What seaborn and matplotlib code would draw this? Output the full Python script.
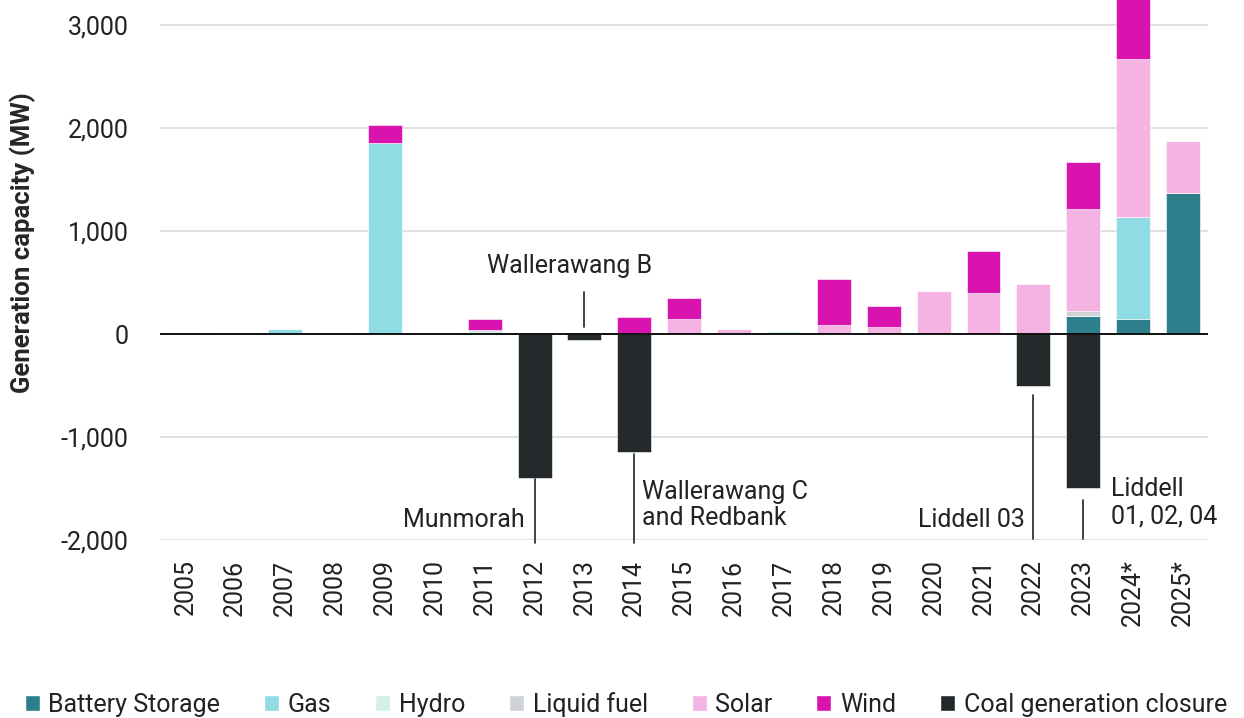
import numpy as np
import pandas as pd
import matplotlib
matplotlib.use('Agg')
import matplotlib.pyplot as plt
from matplotlib.patches import Patch
import seaborn as sns

years = ['2005', '2006', '2007', '2008', '2009', '2010', '2011', '2012', '2013', '2014',
         '2015', '2016', '2017', '2018', '2019', '2020', '2021', '2022', '2023', '2024*', '2025*']

battery = [0, 0, 0, 0, 0, 0, 0, 0, 0, 0, 0, 0, 0, 0, 0, 0, 0, 0, 180, 145, 1370]
gas = [0, 0, 50, 0, 1860, 0, 0, 0, 0, 0, 0, 0, 0, 0, 0, 0, 0, 0, 0, 990, 0]
hydro = [5, 5, 0, 0, 0, 5, 40, 0, 0, 0, 0, 0, 25, 0, 0, 0, 0, 0, 0, 0, 0]
liquid_fuel = [0, 0, 0, 0, 0, 0, 0, 0, 0, 0, 0, 0, 0, 0, 0, 0, 0, 0, 40, 0, 0]
solar = [0, 0, 0, 0, 0, 0, 0, 0, 0, 0, 150, 50, 0, 90, 70, 420, 400, 490, 990, 1540, 505]
wind = [0, 0, 0, 0, 175, 0, 105, 0, 0, 165, 200, 0, 0, 440, 205, 0, 410, 0, 460, 650, 0]
coal_closure = [0, 0, 0, 0, 0, 0, 0, -1400, -60, -1150, 0, 0, 0, 0, 0, 0, 0, -505, -1500, 0, 0]

series = [
    ('Battery Storage', battery, '#2E7F8C'),
    ('Gas', gas, '#8FDCE5'),
    ('Hydro', hydro, '#D4EFEA'),
    ('Liquid fuel', liquid_fuel, '#CFD3D6'),
    ('Solar', solar, '#F4B3E2'),
    ('Wind', wind, '#D913AE'),
]
coal_color = '#24292C'

sns.set_theme(style='white')
plt.rcParams['font.family'] = ['Roboto', 'DejaVu Sans']

fig, ax = plt.subplots(figsize=(12.44, 7.18), dpi=100)
fig.subplots_adjust(left=0.129, right=0.971, top=1.0, bottom=0.248)

# stacked positives
bottom = np.zeros(len(years))
for name, vals, col in series:
    df = pd.DataFrame({'year': years, 'value': vals})
    sns.barplot(data=df, x='year', y='value', order=years, color=col, bottom=bottom,
                width=0.68, saturation=1, ax=ax, edgecolor='white', linewidth=0.4)
    bottom = bottom + np.array(vals)

df = pd.DataFrame({'year': years, 'value': coal_closure})
sns.barplot(data=df, x='year', y='value', order=years, color=coal_color,
            width=0.68, saturation=1, ax=ax, edgecolor='white', linewidth=0.4)

ax.set_ylim(-2000, 3245)
ax.set_xlim(-0.5, len(years) - 0.5)
ax.set_yticks([-2000, -1000, 0, 1000, 2000, 3000])
ax.set_yticklabels(['-2,000', '-1,000', '0', '1,000', '2,000', '3,000'])
ax.yaxis.grid(True, color='#DDDDDD', linewidth=1.3)
ax.set_axisbelow(True)
ax.axhline(0, color='black', linewidth=1.3, zorder=5)
for s in ax.spines.values():
    s.set_visible(False)
ax.tick_params(axis='y', labelsize=18, colors='#222222', pad=23, length=0)
ax.tick_params(axis='x', labelsize=18, colors='#222222', rotation=90, length=0, pad=14)
ax.set_xlabel('')
ax.set_ylabel('Generation capacity (MW)', fontsize=18.5, fontweight='bold')
ax.yaxis.set_label_coords(-0.119, 0.55)

# closure annotations
fs = 18
ax.plot([8, 8], [410, 70], color='#222222', lw=1.2)
ax.text(7.7, 665, 'Wallerawang B', ha='center', va='center', fontsize=fs, color='#222222')
ax.plot([7, 7], [-1410, -2030], color='#222222', lw=1.2, clip_on=False)
ax.text(6.81, -1810, 'Munmorah', ha='right', va='center', fontsize=fs, color='#222222')
ax.plot([9, 9], [-1165, -2030], color='#222222', lw=1.2, clip_on=False)
ax.text(9.16, -1660, 'Wallerawang C\nand Redbank', ha='left', va='center', fontsize=fs,
        color='#222222', linespacing=1.15)
ax.plot([17, 17], [-590, -1990], color='#222222', lw=1.2, clip_on=False)
ax.text(16.83, -1810, 'Liddell 03', ha='right', va='center', fontsize=fs, color='#222222')
ax.plot([18, 18], [-1610, -1990], color='#222222', lw=1.2, clip_on=False)
ax.text(18.56, -1640, 'Liddell\n01, 02, 04', ha='left', va='center', fontsize=fs,
        color='#222222', linespacing=1.15)

handles = [Patch(facecolor=c, label=n) for n, _, c in series]
handles.append(Patch(facecolor=coal_color, label='Coal generation closure'))
fig.legend(handles=handles, loc='lower center', bbox_to_anchor=(0.503, -0.03), ncol=7,
           frameon=False, fontsize=18, handlelength=0.6, handleheight=0.6,
           handletextpad=0.35, columnspacing=1.75, labelcolor='#222222')

fig.savefig('out.png', dpi=100)
